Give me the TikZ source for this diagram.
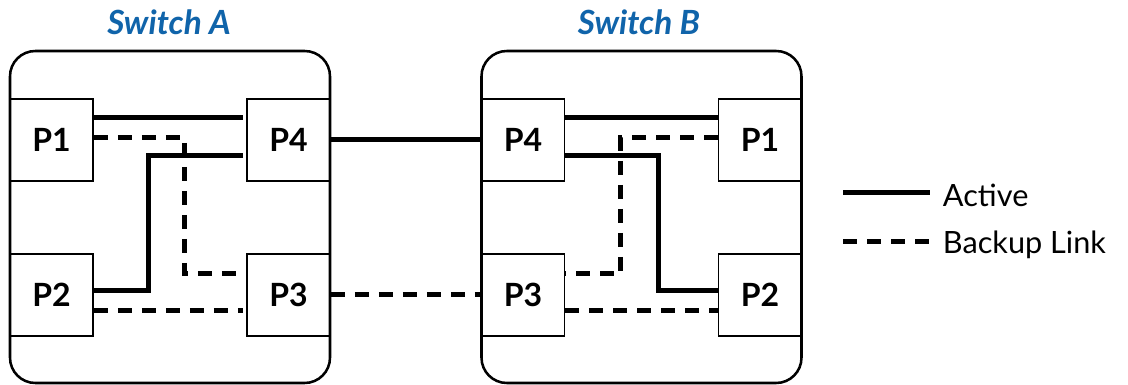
\documentclass[tikz,border=0pt]{standalone}
\usepackage{fontspec}
\setmainfont{Lato}
\usetikzlibrary{calc,positioning}
\definecolor{titleblue}{RGB}{16,100,170}
\tikzset{
  switch-box/.style={
    rectangle,
    draw=black,
    line width=1.9pt,
    rounded corners=19pt,
    minimum width=240pt,
    minimum height=249pt,
    inner sep=0pt
  },
  port/.style={
    rectangle,
    draw=black,
    line width=1.4pt,
    minimum width=62.25pt,
    minimum height=61.5pt,
    inner sep=0pt,
    font=\fontsize{24}{28}\selectfont\bfseries
  },
  link-active/.style={line width=3.75pt},
  link-backup/.style={line width=3.75pt, dash pattern=on 10.5pt off 7.5pt},
  title-blue/.style={
    text=titleblue,
    inner sep=0pt,
    font=\fontsize{25}{28}\selectfont\bfseries\itshape
  },
  legend-text/.style={
    anchor=west,
    inner sep=0pt,
    font=\fontsize{23}{26}\selectfont
  }
}

\begin{document}
\begin{tikzpicture}[x=0.75pt, y=0.75pt]
  \useasboundingbox (0,0) rectangle (1128,385);
  % switches
  \node[switch-box] (swA) at (170,168) {};
  \node[switch-box] (swB) at (641.5,168) {};
  \node[title-blue] (titleA) at (169,363) {Switch A};
  \node[title-blue] (titleB) at (639,363) {Switch B};
  % ports of switch A
  \node[port] (a1) at (51.5,245) {P1};
  \node[port] (a4) at (288.5,245) {P4};
  \node[port] (a2) at (51.5,90) {P2};
  \node[port] (a3) at (288.5,90) {P3};
  % ports of switch B
  \node[port] (b4) at (523,245) {P4};
  \node[port] (b1) at (760,245) {P1};
  \node[port] (b3) at (523,90) {P3};
  \node[port] (b2) at (760,90) {P2};
  % links inside A
  \draw[link-active] ($(a1.east)+(0,22)$) -- ($(a4.west)+(-3,22)$);
  \draw[link-backup] ($(a1.east)+(0,2)$) -- ++(91,0) |- ($(a3.west)+(-3,21)$);
  \draw[link-active] ($(a4.west)+(-3,-16)$) -- ++(-95,0) |- ($(a2.east)+(0,4)$);
  \draw[link-backup] ($(a2.east)+(0,-16)$) -- ($(a3.west)+(-3,-16)$);
  % links between the switches
  \draw[link-active] (a4.east) -- (b4.west);
  \draw[link-backup] (a3.east) -- (b3.west);
  % links inside B
  \draw[link-active] ($(b4.east)+(0,22)$) -- ($(b1.west)+(0,22)$);
  \draw[link-backup] ($(b1.west)+(0,2)$) -- ++(-97,0) |- ($(b3.east)+(0,21)$);
  \draw[link-active] ($(b4.east)+(0,-16)$) -- ++(93,0) |- ($(b2.west)+(0,4)$);
  \draw[link-backup] ($(b3.east)+(0,-16)$) -- ($(b2.west)+(0,-16)$);
  % legend
  \coordinate (act0) at (843,192);
  \coordinate (act1) at (930,192);
  \coordinate (bak0) at (843,143);
  \coordinate (bak1) at (930,143);
  \draw[link-active] (act0) -- (act1);
  \draw[link-backup] (bak0) -- (bak1);
  \node[legend-text, right=9.5pt of act1, yshift=-1.5pt] (legact) {Active};
  \node[legend-text, right=9.5pt of bak1, yshift=-2pt] (legbak) {Backup Link};
\end{tikzpicture}
\end{document}
